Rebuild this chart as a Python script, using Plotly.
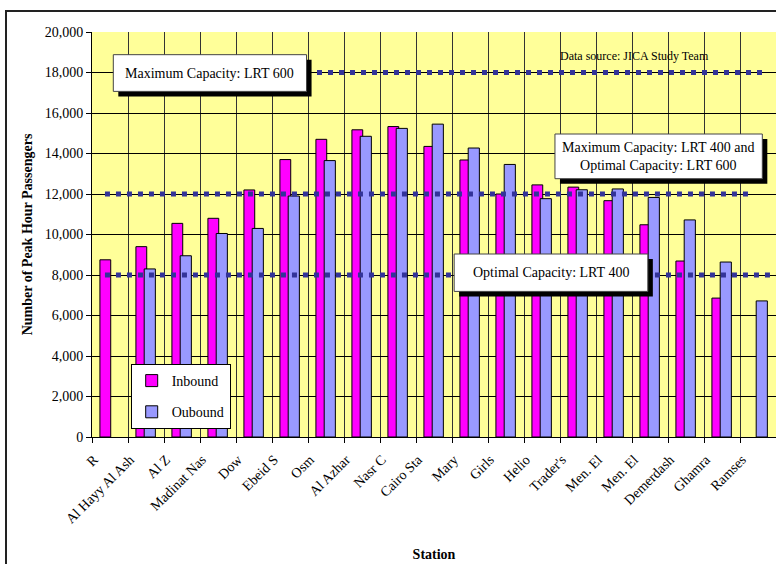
import plotly.graph_objects as go

# ---- data ----
stations = ["R", "Al Hayy Al Ash", "Al Z", "Madinat Nas", "Dow", "Ebeid S", "Osm",
            "Al Azhar", "Nasr C", "Cairo Sta", "Mary", "Girls", "Helio", "Trader's",
            "Men. El", "Men. El", "Demerdash", "Ghamra", "Ramses"]
inbound = [8750, 9400, 10550, 10800, 12200, 13700, 14700, 15170, 15330, 14350,
           13680, 12000, 12450, 12340, 11670, 10480, 8690, 6860, None]
outbound = [None, 8300, 8950, 10050, 10300, 11900, 13650, 14850, 15240, 15450,
            14270, 13460, 11770, 12210, 12250, 11830, 10720, 8640, 6720]
capacity_lines = [
    ("Maximum Capacity: LRT 600", 18000, 5.75, 18.25),
    ("Maximum Capacity: LRT 400 and<br>Optimal Capacity: LRT 600", 12000, -0.14, 17.86),
    ("Optimal Capacity: LRT 400", 8000, -0.14, 18.5),
]
y_ticks = list(range(0, 20001, 2000))

FONT = "Liberation Serif, Times New Roman, serif"
x_idx = list(range(len(stations)))

fig = go.Figure()
fig.add_trace(go.Bar(x=x_idx, y=inbound, name="Inbound", offset=-0.28, width=0.30,
                     marker=dict(color="#FF00FF", line=dict(color="black", width=1)),
                     legendgroup="a"))
fig.add_trace(go.Bar(x=x_idx, y=outbound, name="Oubound", offset=-0.05, width=0.31,
                     marker=dict(color="#9999FF", line=dict(color="black", width=1)),
                     legendgroup="b"))

for label, yv, xs, xe in capacity_lines:
    fig.add_trace(go.Scatter(x=[xs, xe], y=[yv, yv], mode="lines", showlegend=False,
                             hoverinfo="skip",
                             line=dict(color="#333399", width=5, dash="5px,6px")))

# boxes with shadows (positions in data units)
boxes = [
    (0.092, 5.46, 17067, 18880, "Maximum Capacity: LRT 600"),
    (12.36, 18.12, 12756, 14963, "Maximum Capacity: LRT 400 and<br>Optimal Capacity: LRT 600"),
    (9.56, 14.94, 7190, 9037, "Optimal Capacity: LRT 400"),
]
dx, dy = 5 / 36, 5 * 20000 / 405
for x0, x1, y0, y1, txt in boxes:
    fig.add_shape(type="rect", x0=x0 + dx, x1=x1 + dx, y0=y0 - dy, y1=y1 - dy,
                  xref="x", yref="y", fillcolor="black", line=dict(width=0), layer="above")
    fig.add_shape(type="rect", x0=x0, x1=x1, y0=y0, y1=y1, xref="x", yref="y",
                  fillcolor="white", line=dict(color="#444", width=1), layer="above")
    fig.add_annotation(x=(x0 + x1) / 2, y=(y0 + y1) / 2, xref="x", yref="y", text=txt,
                       showarrow=False, font=dict(family=FONT, size=14, color="black"),
                       align="center")

fig.add_annotation(x=14.56, y=18830, xref="x", yref="y", text="Data source: JICA Study Team",
                   showarrow=False, font=dict(family=FONT, size=12, color="black"))

# outer chart border
fig.add_shape(type="rect", xref="paper", yref="paper",
              x0=(6 - 92) / 684, x1=1.05, y0=-0.4, y1=1 + (32 - 11) / 405,
              line=dict(color="#222", width=2), fillcolor="rgba(0,0,0,0)", layer="below")

fig.update_layout(
    width=776, height=564,
    margin=dict(l=92, r=0, t=32, b=127),
    paper_bgcolor="white", plot_bgcolor="#FFFF99",
    barmode="overlay",
    font=dict(family=FONT, size=14, color="black"),
    legend=dict(x=(130.7 - 92) / 684, y=(437.3 - 364.3) / 405, xanchor="left", yanchor="top",
                bgcolor="white", bordercolor="black", borderwidth=1,
                font=dict(family=FONT, size=14), tracegroupgap=10,
                traceorder="grouped", entrywidth=95, itemwidth=30),
    xaxis=dict(
        range=[-0.5, 18.5], tickmode="array", tickvals=x_idx, ticktext=stations,
        tickangle=-45, ticks="", showgrid=False, zeroline=False,
        tickfont=dict(family=FONT, size=14),
        ticklabelshift=-16, ticklabelstandoff=8,
        minor=dict(tickmode="linear", tick0=-0.5, dtick=1, showgrid=True,
                   gridcolor="#333", gridwidth=1, ticks="outside", ticklen=5,
                   tickcolor="black"),
        showline=True, linecolor="black", linewidth=1,
        title=dict(text="<b>Station</b>", font=dict(family=FONT, size=14), standoff=23),
    ),
    yaxis=dict(
        range=[0, 20000], tickmode="array", tickvals=y_ticks,
        ticktext=[f"{v:,}" for v in y_ticks],
        ticks="outside", ticklen=5, tickcolor="black",
        showgrid=True, gridcolor="black", gridwidth=1, zeroline=False,
        showline=True, linecolor="black", linewidth=1,
        tickfont=dict(family=FONT, size=14),
        title=dict(text="<b>Number of Peak Hour Passengers</b>",
                   font=dict(family=FONT, size=14), standoff=8),
    ),
    showlegend=True,
)

fig.write_html("out.html")
